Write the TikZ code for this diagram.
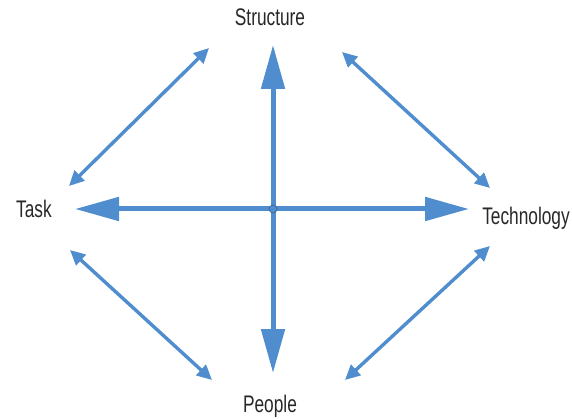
\documentclass[tikz,border=0pt]{standalone}
\usepackage{fontspec}
\setmainfont[FakeStretch=0.72]{Liberation Sans}
\usetikzlibrary{arrows.meta}
\definecolor{arrowblue}{RGB}{79,141,206}
\definecolor{labelgray}{RGB}{40,40,40}
\tikzset{
  lbl/.style={font=\fontsize{24}{27}\selectfont, text=labelgray, anchor=base, inner sep=0pt},
  mainarrow/.style={draw=arrowblue, line width=5pt, {Triangle[length=44pt,width=23pt]}-{Triangle[length=44pt,width=23pt]}},
  diagarrow/.style={draw=arrowblue, line width=3.4pt, {Triangle[length=15pt,width=14pt]}-{Triangle[length=15pt,width=14pt]}},
  hub/.style={circle, fill=arrowblue, draw=arrowblue!70!black, line width=0.6pt, inner sep=0pt, minimum size=8pt}
}
\begin{document}
\begin{tikzpicture}[x=1pt,y=-1pt]
\useasboundingbox[fill=white] (0,0) rectangle (572,419);
% labels
\node[lbl] (structure) at (270,26) {Structure};
\node[lbl] (task) at (34,218) {Task};
\node[lbl] (technology) at (526,225) {Technology};
\node[lbl] (people) at (270,412) {People};
% main cross ends
\coordinate (top) at (273,45);
\coordinate (bottom) at (273,373);
\coordinate (left) at (75,209);
\coordinate (right) at (469,209);
\draw[mainarrow] (top) -- (bottom);
\draw[mainarrow] (left) -- (right);
\node[hub] (center) at (273,209) {};
% diagonal ends
\coordinate (tl1) at (69,186);
\coordinate (tl2) at (209,48);
\coordinate (tr1) at (342,52);
\coordinate (tr2) at (490,188);
\coordinate (bl1) at (70,250);
\coordinate (bl2) at (212,380);
\coordinate (br1) at (490,246);
\coordinate (br2) at (345,380);
\draw[diagarrow] (tl1) -- (tl2);
\draw[diagarrow] (tr1) -- (tr2);
\draw[diagarrow] (bl1) -- (bl2);
\draw[diagarrow] (br1) -- (br2);
\end{tikzpicture}
\end{document}
